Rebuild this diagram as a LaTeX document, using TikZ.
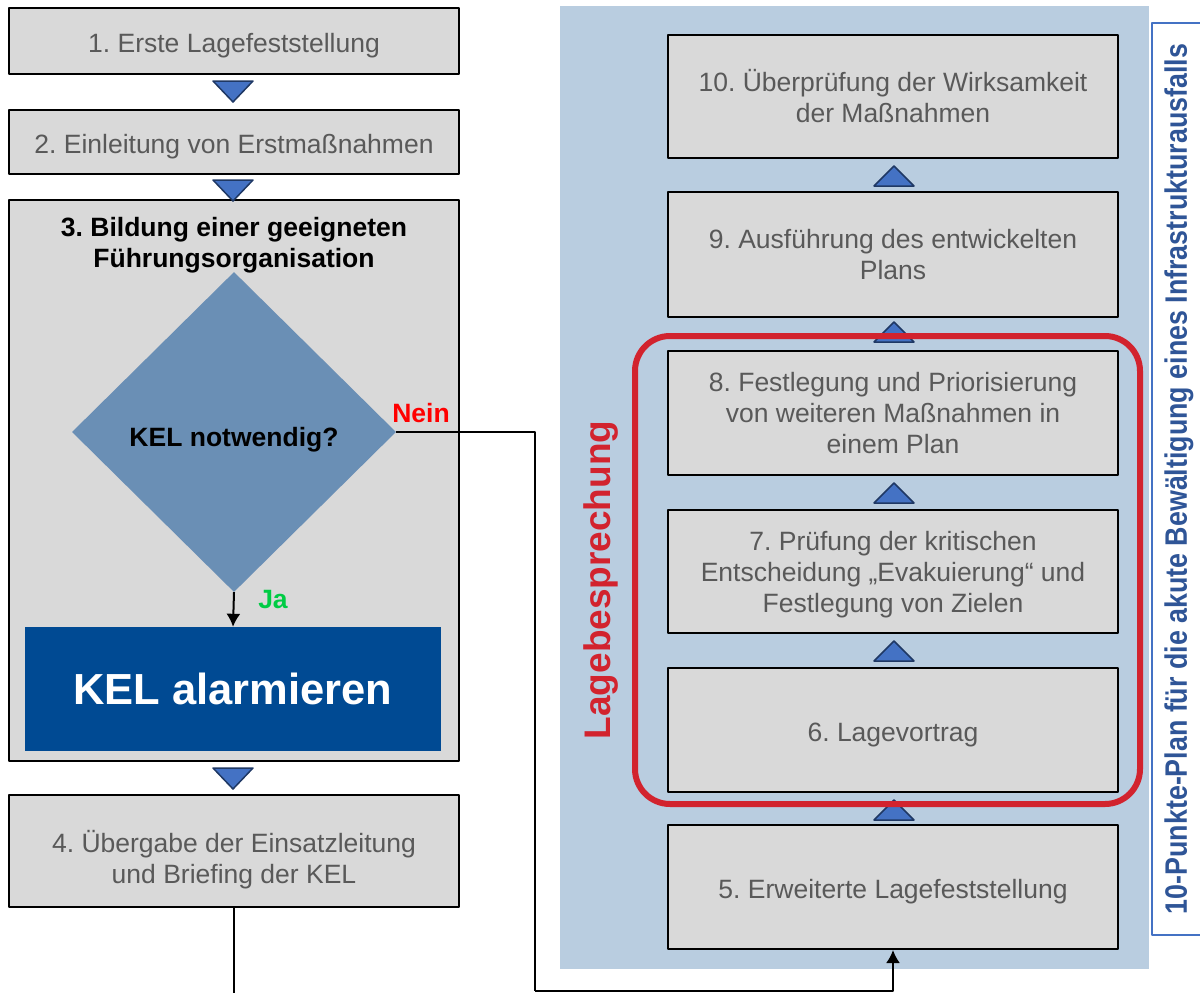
\documentclass[tikz,border=0pt]{standalone}
\usepackage{fontspec}
\setmainfont{Liberation Sans}
\usetikzlibrary{shapes.geometric,arrows.meta}
\definecolor{boxgray}{HTML}{D9D9D9}
\definecolor{txtgray}{HTML}{595959}
\definecolor{bgblue}{HTML}{B9CDE0}
\definecolor{triblue}{HTML}{4472C4}
\definecolor{trinavy}{HTML}{1F3864}
\definecolor{decblue}{HTML}{6A8FB5}
\definecolor{kelblue}{HTML}{004A93}
\definecolor{redline}{HTML}{D2232E}
\definecolor{jagreen}{HTML}{00CC44}
\definecolor{plannavy}{HTML}{2F5597}
\frenchspacing
\begin{document}
\begin{tikzpicture}[x=1pt,y=-1pt,line join=round,
 stepbox/.style={draw=black,line width=2pt,fill=boxgray,text=txtgray,minimum width=450pt,
  inner sep=0pt,align=center,font=\fontsize{26.5}{31}\selectfont},
 lower/.style={execute at begin node={\rule{0pt}{#1}}},
 tri/.style={fill=triblue,draw=trinavy,line width=1.5pt},
 conn/.style={draw=black,line width=2pt},
 arr/.style={conn,-{Latex[length=13pt,width=14pt]}},
 boldtxt/.style={font=\fontsize{26.5}{31}\selectfont\bfseries,align=center}]
 \useasboundingbox (0,0) rectangle (1200,993);
 % left column
 \node[stepbox,lower=29pt,minimum height=66pt] (b1) at (234,41) {1. Erste Lagefeststellung};
 \node[stepbox,lower=29pt,minimum height=64pt] (b2) at (234,142) {2. Einleitung von Erstmaßnahmen};
 \node[stepbox,minimum height=561pt] (b3) at (234,480.5) {};
 \node[boldtxt] (b3title) at (234,245) {3. Bildung einer geeigneten\\Führungsorganisation};
 \node[shape=diamond,fill=decblue,minimum width=324pt,minimum height=320pt,inner sep=0pt,
  boldtxt] (dec) at (234,432) {\rule{0pt}{34pt}KEL notwendig?};
 \node[fill=kelblue,text=white,minimum width=416pt,minimum height=124pt,inner sep=0pt,
  font=\fontsize{43.5}{50}\selectfont\bfseries] (alarm) at (233,689) {KEL alarmieren};
 \node[stepbox,minimum height=112pt] (b4) at (234,851) {\rule{0pt}{39pt}4. Übergabe der Einsatzleitung\\und Briefing der KEL};
 \node[boldtxt,text=jagreen] (ja) at (273,600) {Ja};
 \node[boldtxt,text=red] (nein) at (421,413) {Nein};
 \foreach \y in {81,180,768}
  \draw[tri] (213,\y) -- (253,\y) -- (233,{\y+21}) -- cycle;
 % right column
 \fill[bgblue] (560,6) rectangle (1149,969);
 \node[stepbox,minimum height=123pt] (r10) at (893,96.5) {10. Überprüfung der Wirksamkeit\\der Maßnahmen};
 \node[stepbox,minimum height=125pt] (r9) at (893,254.5) {9. Ausführung des entwickelten\\Plans};
 \node[stepbox,minimum height=124pt] (r8) at (893,413) {8. Festlegung und Priorisierung\\von weiteren Maßnahmen in\\einem Plan};
 \node[stepbox,minimum height=123pt] (r7) at (893,571.5) {\rule{0pt}{26pt}7. Prüfung der kritischen\\Entscheidung „Evakuierung“ und\\Festlegung von Zielen};
 \node[stepbox,lower=28pt,minimum height=124pt] (r6) at (893,730) {6. Lagevortrag};
 \node[stepbox,lower=29pt,minimum height=124pt] (r5) at (893,887) {5. Erweiterte Lagefeststellung};
 \foreach \y in {186,342,503,661,820}
  \draw[tri] (874,\y) -- (914,\y) -- (894,{\y-20}) -- cycle;
 \draw[redline,line width=6pt,rounded corners=35pt] (635,336) rectangle (1140,804);
 \node[rotate=90,text=redline,font=\fontsize{37}{40}\selectfont\bfseries] (lage) at (601,580) {Lagebesprechung};
 % side label
 \draw[triblue,line width=2pt] (1202,23) -| (1152,935) -- (1202,935);
 \node[rotate=90,text=plannavy,font=\fontsize{31}{34}\selectfont\bfseries] (plan) at (1179,479)
  {\scalebox{0.865}[1]{10-Punkte-Plan für die akute Bewältigung eines Infrastrukturausfalls}};
 % connectors
 \coordinate (c1) at (535,991);
 \coordinate (c2) at (535,995);
 \draw[arr] (dec.south) -- (alarm.north);
 \draw[conn] (dec.east) -| (c1);
 \draw[arr] (c1) -| (r5.south);
 \draw[conn] (b4.south) |- (c2);
\end{tikzpicture}
\end{document}
